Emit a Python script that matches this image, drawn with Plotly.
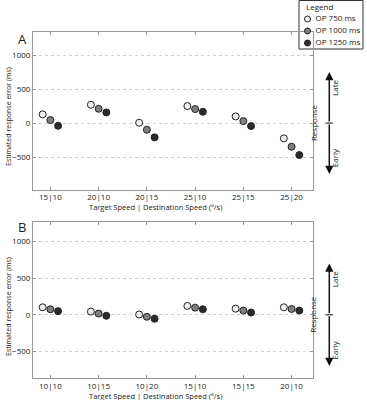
import plotly.graph_objects as go

# ---- data ----
series_names = ["OP 750 ms", "OP 1000 ms", "OP 1250 ms"]
series_colors = ["#eeeeee", "#808080", "#2b2b2b"]

cats_A = ["15|10", "20|10", "20|15", "25|10", "25|15", "25|20"]
vals_A = [
    [128, 269, 5, 250, 98, -225],      # OP 750
    [44, 210, -98, 206, 29, -348],     # OP 1000
    [-40, 157, -210, 166, -44, -470],  # OP 1250
]

cats_B = ["10|10", "10|15", "10|20", "15|10", "15|15", "20|10"]
vals_B = [
    [103, 44, 4, 121, 84, 103],
    [76, 17, -27, 98, 58, 80],
    [50, -13, -54, 76, 31, 58],
]

offsets = [-0.16, 0.0, 0.16]
yticks = [-500, 0, 500, 1000]

FONT = "Open Sans"
TXT = "#222222"
W, H = 367, 400
ML, MB = 33, 22
PW, PH = W - ML, H - MB  # plot area (r=0, t=0)


def px_x(px):
    return (px - ML) / PW


def px_y(py):
    return (PH - py) / PH


fig = go.Figure()

for panel, (cats, vals, xa, ya) in enumerate([(cats_A, vals_A, "x", "y"), (cats_B, vals_B, "x2", "y2")]):
    pos = list(range(1, len(cats) + 1))
    for i, name in enumerate(series_names):
        fig.add_trace(go.Scatter(
            x=[p + offsets[i] for p in pos], y=vals[i],
            mode="markers", name=name, showlegend=False,
            marker=dict(size=7, color=series_colors[i], line=dict(width=1, color="#222")),
            xaxis=xa, yaxis=ya,
        ))

# legend drawn on its own small axis
leg_rows = [19, 31, 43]
fig.add_trace(go.Scatter(
    x=[8.5] * 3, y=leg_rows, mode="markers",
    marker=dict(size=6, color=series_colors, line=dict(width=1, color="#222")),
    xaxis="x3", yaxis="y3", showlegend=False, cliponaxis=False,
))
fig.add_trace(go.Scatter(
    x=[16.5] * 3, y=leg_rows, mode="text", text=series_names,
    textposition="middle right", textfont=dict(family=FONT, size=8, color=TXT),
    xaxis="x3", yaxis="y3", showlegend=False, cliponaxis=False,
))

axis_common = dict(showline=True, linecolor="#999", linewidth=1, mirror="ticks",
                   ticks="inside", ticklen=3, tickcolor="#999", zeroline=False,
                   tickfont=dict(family=FONT, size=8, color=TXT))

xtitle = "Target Speed | Destination Speed (º/s)"
ytitle = "Estimated response error (ms)"
xdom = [0, px_x(313.3)]

fig.update_layout(
    width=W, height=H,
    margin=dict(l=ML, r=0, t=0, b=MB),
    plot_bgcolor="rgba(0,0,0,0)", paper_bgcolor="white",
    font=dict(family=FONT, size=8, color=TXT),
    showlegend=False,
    xaxis=dict(domain=xdom, anchor="y", range=[0.64, 6.45], tickvals=list(range(1, 7)),
               ticktext=cats_A, showgrid=False, **axis_common),
    yaxis=dict(domain=[px_y(189.7), px_y(32.3)], anchor="x", range=[-980, 1335], tickvals=yticks,
               showgrid=True, gridcolor="#d0d0d0", griddash="dot", gridwidth=1, **axis_common),
    xaxis2=dict(domain=xdom, anchor="y2", range=[0.64, 6.45], tickvals=list(range(1, 7)),
                ticktext=cats_B, showgrid=False, **axis_common),
    yaxis2=dict(domain=[0, px_y(221.7)], anchor="x2", range=[-864, 1273], tickvals=yticks,
                showgrid=True, gridcolor="#d0d0d0", griddash="dot", gridwidth=1, **axis_common),
    xaxis3=dict(domain=[px_x(299), px_x(363)], anchor="y3", range=[0, 64], visible=False, fixedrange=True),
    yaxis3=dict(domain=[px_y(49), 1], anchor="x3", range=[49, 0], visible=False, fixedrange=True),
)

ann = []
shapes = []
# legend box and title
shapes.append(dict(type="rect", xref="paper", yref="paper", x0=px_x(299), x1=px_x(363),
                   y0=px_y(49), y1=px_y(0.5), line=dict(color="#333", width=1),
                   fillcolor="white", layer="below"))
ann.append(dict(x=px_x(304), y=px_y(6), xref="paper", yref="paper", text="Legend",
                xanchor="left", yanchor="middle", showarrow=False, font=dict(size=8, color=TXT)))

# axis titles
for xty, yty in [(207, 117), (395.5, 307)]:
    ann.append(dict(x=px_x(155), y=px_y(xty), xref="paper", yref="paper", text=xtitle,
                    xanchor="center", yanchor="middle", showarrow=False,
                    font=dict(size=7.5, color=TXT)))
    ann.append(dict(x=px_x(8), y=px_y(yty), xref="paper", yref="paper", text=ytitle,
                    xanchor="center", yanchor="middle", showarrow=False, textangle=-90,
                    font=dict(size=7, color=TXT)))

for ya, tip, lab, letter, ly in [("y", 750, 510, "A", 39), ("y2", 700, 480, "B", 227)]:
    xa = px_x(329.3)
    for t in (tip, -tip):
        ann.append(dict(x=xa, y=t, xref="paper", yref=ya, ax=0, ay=0, axref="pixel", ayref=ya,
                        showarrow=True, arrowhead=2, arrowsize=1.1, arrowwidth=1.5,
                        arrowcolor="#111", text=""))
    shapes.append(dict(type="line", xref="paper", yref=ya, x0=px_x(325.5),
                       x1=px_x(333), y0=0, y1=0, line=dict(color="#111", width=1)))
    ann.append(dict(x=px_x(342), y=lab, xref="paper", yref=ya, text="Late",
                    showarrow=False, textangle=-90, font=dict(size=8, color=TXT)))
    ann.append(dict(x=px_x(342), y=-lab, xref="paper", yref=ya, text="Early",
                    showarrow=False, textangle=-90, font=dict(size=8, color=TXT)))
    ann.append(dict(x=px_x(320.5), y=0, xref="paper", yref=ya, text="Response",
                    showarrow=False, textangle=-90, font=dict(size=8, color=TXT)))
    ann.append(dict(x=px_x(22), y=px_y(ly), xref="paper", yref="paper", text=letter,
                    xanchor="center", yanchor="middle",
                    showarrow=False, font=dict(size=13, color=TXT)))

fig.update_layout(annotations=ann, shapes=shapes)
fig.write_html("out.html")
